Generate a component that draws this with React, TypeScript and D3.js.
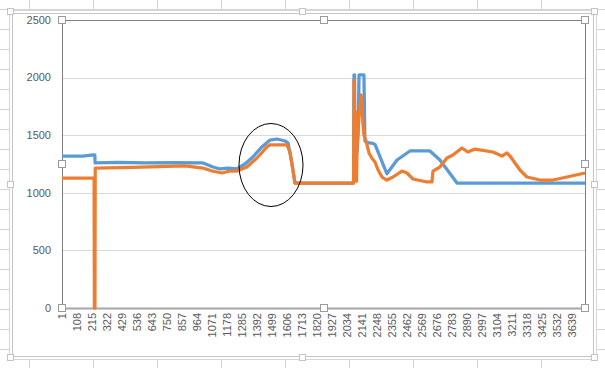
import React from 'react';
import * as d3 from 'd3';

// number of rows in the sheet (category axis runs 1..categoryCount)
const categoryCount = 3732;

const xTickLabels = [
  1, 108, 215, 322, 429, 536, 643, 750, 857, 964, 1071, 1178, 1285, 1392, 1499, 1606, 1713, 1820,
  1927, 2034, 2141, 2248, 2355, 2462, 2569, 2676, 2783, 2890, 2997, 3104, 3211, 3318, 3425, 3532, 3639,
];
const yTicks = [0, 500, 1000, 1500, 2000, 2500];

// series 1 (blue): row index / value
const s1Index = [
  1, 150, 225, 235, 237, 400, 600, 800, 1007, 1078, 1128, 1185, 1249, 1306, 1363, 1427, 1485, 1535,
  1592, 1614, 1642, 1663, 2081, 2084, 2088, 2091, 2098, 2105, 2113, 2120, 2155, 2162, 2170, 2198,
  2212, 2234, 2319, 2391, 2483, 2626, 2697, 2819, 3732,
];
const s1Values = [
  1319, 1319, 1330, 1330, 1259, 1265, 1259, 1262, 1259, 1224, 1207, 1215, 1207, 1250, 1311, 1398,
  1458, 1467, 1450, 1432, 1250, 1085, 1085, 2023, 2023, 1400, 1600, 1350, 1500, 2023, 2023, 1450,
  1440, 1432, 1432, 1420, 1165, 1285, 1363, 1363, 1285, 1085, 1085,
];

// series 2 (orange)
const s2Index = [
  1, 230, 232, 236, 238, 500, 878, 1007, 1071, 1142, 1199, 1249, 1320, 1392, 1463, 1485, 1606, 1628,
  1663, 2081, 2084, 2088, 2091, 2095, 2098, 2102, 2106, 2113, 2120, 2134, 2141, 2148, 2155, 2170,
  2191, 2212, 2234, 2255, 2284, 2319, 2362, 2426, 2462, 2505, 2605, 2640, 2648, 2697, 2747, 2790,
  2854, 2897, 2947, 3075, 3140, 3175, 3197, 3268, 3318, 3411, 3503, 3603, 3732,
];
const s2Values = [
  1128, 1128, 0, 0, 1215, 1220, 1233, 1215, 1189, 1172, 1189, 1189, 1224, 1302, 1398, 1415, 1415,
  1350, 1085, 1085, 1979, 1600, 1500, 1700, 1350, 1100, 1400, 1550, 1650, 1850, 1780, 1600, 1500,
  1450, 1346, 1300, 1267, 1200, 1137, 1111, 1137, 1189, 1172, 1120, 1094, 1094, 1189, 1224, 1302,
  1328, 1389, 1354, 1380, 1354, 1319, 1346, 1319, 1198, 1137, 1111, 1111, 1137, 1172,
];

const width = 605;
const height = 368;
const plot = { left: 62, right: 585, top: 20, bottom: 308 };
const chartBox = { left: 11, right: 595, top: 12, bottom: 358 };

const font = "'Liberation Sans', Arial, sans-serif";
const labelColor = '#595959';

export default function App() {
  const x = d3.scaleLinear().domain([1, categoryCount]).range([plot.left, plot.right]);
  const y = d3.scaleLinear().domain([0, 2500]).range([plot.bottom, plot.top]);

  const path1 = d3
    .line<number>()
    .x((d) => x(s1Index[d]))
    .y((d) => y(s1Values[d]))(d3.range(s1Index.length));
  const path2 = d3
    .line<number>()
    .x((d) => x(s2Index[d]))
    .y((d) => y(s2Values[d]))(d3.range(s2Index.length));

  // spreadsheet cell lines behind the chart
  const colLines = d3.range(29, width + 1, 64);
  const rowLines = d3.range(9, height + 1, 20);

  const midX = (plot.left + plot.right) / 2;
  const midY = (plot.top + plot.bottom) / 2;
  const plotHandles = [
    [plot.left, plot.top], [midX, plot.top], [plot.right, plot.top],
    [plot.left, midY], [plot.right, midY],
    [plot.left, plot.bottom], [midX, plot.bottom], [plot.right, plot.bottom],
  ];
  const cmx = (chartBox.left + chartBox.right) / 2;
  const cmy = (chartBox.top + chartBox.bottom) / 2;
  const chartHandles = [
    [chartBox.left, chartBox.top], [cmx, chartBox.top], [chartBox.right, chartBox.top],
    [chartBox.left, cmy], [chartBox.right, cmy],
    [chartBox.left, chartBox.bottom], [cmx, chartBox.bottom], [chartBox.right, chartBox.bottom],
  ];

  return (
    <svg
      width={width}
      height={height}
      style={{ position: 'absolute', left: 0, top: 0, background: '#fff' }}
    >
      <g stroke="#d4d4d4" strokeWidth={1}>
        {colLines.map((c) => (
          <line key={'c' + c} x1={c + 0.5} x2={c + 0.5} y1={0} y2={height} />
        ))}
        {rowLines.map((r) => (
          <line key={'r' + r} x1={0} x2={width} y1={r + 0.5} y2={r + 0.5} />
        ))}
      </g>

      {/* chart area */}
      <rect
        x={chartBox.left - 1.5}
        y={chartBox.top - 1.5}
        width={chartBox.right - chartBox.left + 3}
        height={chartBox.bottom - chartBox.top + 3}
        fill="#fff"
        stroke="#d6d6d6"
      />
      <rect
        x={chartBox.left + 1.5}
        y={chartBox.top + 1.5}
        width={chartBox.right - chartBox.left - 3}
        height={chartBox.bottom - chartBox.top - 3}
        fill="#fff"
        stroke="#c4c4c4"
      />

      {/* gridlines */}
      <g stroke="#d9d9d9" strokeWidth={1}>
        {yTicks.slice(1).map((t) => (
          <line key={t} x1={plot.left} x2={plot.right} y1={Math.round(y(t)) + 0.5} y2={Math.round(y(t)) + 0.5} />
        ))}
      </g>

      {/* plot area outline (selected) */}
      <rect
        x={plot.left + 0.5}
        y={plot.top + 0.5}
        width={plot.right - plot.left}
        height={plot.bottom - plot.top}
        fill="none"
        stroke="#7f7f7f"
        strokeWidth={1}
      />
      <line x1={plot.left} x2={plot.right} y1={plot.bottom + 0.5} y2={plot.bottom + 0.5} stroke="#a6a6a6" strokeWidth={2} />

      {/* y labels */}
      <g fontFamily={font} fontSize={11} fill={labelColor} textAnchor="end">
        {yTicks.map((t) => (
          <text key={t} x={51} y={y(t)} dy="0.35em">
            {t}
          </text>
        ))}
      </g>

      {/* x labels */}
      <g fontFamily={font} fontSize={11} fill={labelColor} textAnchor="end">
        {xTickLabels.map((t) => (
          <text key={t} transform={`translate(${x(t)},${plot.bottom + 5}) rotate(-90)`} dy="0.35em">
            {t}
          </text>
        ))}
      </g>

      {/* series */}
      <path d={path1 ?? ''} fill="none" stroke="#5B9BD5" strokeWidth={3.25} strokeLinejoin="round" />
      <path d={path2 ?? ''} fill="none" stroke="#ED7D31" strokeWidth={3.25} strokeLinejoin="round" />

      {/* hand-drawn ellipse shape */}
      <ellipse cx={271} cy={165} rx={32} ry={41.5} fill="none" stroke="#000" strokeWidth={1} />

      {/* selection handles */}
      <g fill="#fff" stroke="#9a9a9a" strokeWidth={1}>
        {plotHandles.map(([hx, hy], i) => (
          <rect key={'p' + i} x={Math.round(hx) - 3.5} y={Math.round(hy) - 3.5} width={7} height={7} />
        ))}
        {chartHandles.map(([hx, hy], i) => (
          <rect key={'h' + i} x={Math.round(hx) - 3.5} y={Math.round(hy) - 3.5} width={6} height={6} stroke="#c4c4c4" />
        ))}
      </g>
    </svg>
  );
}
